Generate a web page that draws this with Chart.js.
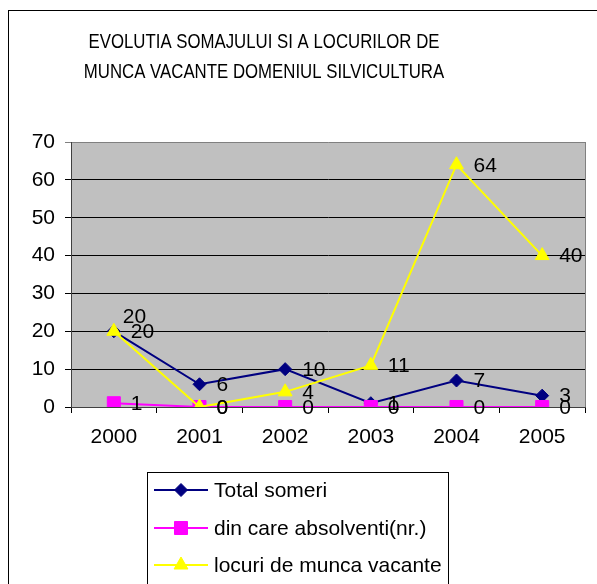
<!DOCTYPE html>
<html>
<head>
<meta charset="utf-8">
<script src="https://cdn.jsdelivr.net/npm/chart.js@4/dist/chart.umd.min.js"></script>
<style>
html,body{margin:0;padding:0;background:#fff}
canvas{display:block}
</style>
</head>
<body>
<canvas id="c" width="597" height="584"></canvas>
<script>
const years = ["2000","2001","2002","2003","2004","2005"]
const total_someri = [20,6,10,1,7,3]
const absolventi = [1,0,0,0,0,0]
const locuri_vacante = [20,0,4,11,64,40]
const series_names = ["Total someri","din care absolventi(nr.)","locuri de munca vacante"]
const title_lines = ["EVOLUTIA SOMAJULUI SI A LOCURILOR DE","MUNCA VACANTE DOMENIUL SILVICULTURA"]
const x_title = "ANII"

const navy = "#000080"
const magenta = "#FF00FF"
const yellow = "#FFFF00"
const font = "Arial, 'Liberation Sans', sans-serif"
const fsize = 21

// background, outer frame, grey plot area
const backPlugin = {
    id:"back",
    beforeDraw(chart){
        let ctx = chart.ctx
        let a = chart.chartArea
        ctx.save()
        ctx.fillStyle = "#fff"
        ctx.fillRect(0,0,chart.width,chart.height)
        ctx.strokeStyle = "#000"
        ctx.lineWidth = 1
        ctx.strokeRect(8.5,10.5,700,700)
        ctx.fillStyle = "#C0C0C0"
        ctx.fillRect(a.left,a.top,a.right-a.left,a.bottom-a.top)
        ctx.restore()
    },
    afterDraw(chart){
        let ctx = chart.ctx
        let a = chart.chartArea
        ctx.save()
        // right border of plot
        ctx.strokeStyle = "#808080"
        ctx.lineWidth = 1
        ctx.beginPath()
        ctx.moveTo(Math.round(a.right)+0.5,a.top)
        ctx.lineTo(Math.round(a.right)+0.5,a.bottom)
        ctx.stroke()

        // title, a bit condensed
        ctx.fillStyle = "#000"
        ctx.font = "20px " + font
        ctx.textAlign = "center"
        ctx.textBaseline = "middle"
        let ys = [42,72]
        for (let i=0;i<title_lines.length;i++){
            ctx.save()
            ctx.translate(264,ys[i])
            ctx.scale(0.84,1)
            ctx.fillText(title_lines[i],0,0)
            ctx.restore()
        }

        // x axis title (hidden under the legend, only the top shows)
        ctx.font = "bold 20px " + font
        ctx.fillText(x_title,(a.left+a.right)/2,482)

        // legend box
        ctx.fillStyle = "#fff"
        ctx.fillRect(147.5,472.5,301,200)
        ctx.strokeStyle = "#000"
        ctx.lineWidth = 1
        ctx.strokeRect(147.5,472.5,301,200)
        let metas = chart.data.datasets
        let rows = [490,528,565]
        for (let i=0;i<metas.length;i++){
            let ds = metas[i]
            ctx.strokeStyle = ds.borderColor
            ctx.lineWidth = 2
            ctx.beginPath()
            ctx.moveTo(154,rows[i])
            ctx.lineTo(208,rows[i])
            ctx.stroke()
            ctx.fillStyle = ds.backgroundColor
            ctx.lineWidth = 1
            Chart.helpers.drawPoint(ctx,{pointStyle:ds.pointStyle,radius:ds.pointRadius,borderWidth:1,rotation:0},181,rows[i])
            ctx.fillStyle = "#000"
            ctx.font = fsize + "px " + font
            ctx.textAlign = "left"
            ctx.textBaseline = "middle"
            ctx.fillText(series_names[i],214,rows[i]+1)
        }
        ctx.restore()
    }
}

// value labels to the right of each point
const labelPlugin = {
    id:"labels",
    afterDatasetsDraw(chart){
        let ctx = chart.ctx
        ctx.save()
        ctx.fillStyle = "#000"
        ctx.font = fsize + "px " + font
        ctx.textAlign = "left"
        ctx.textBaseline = "middle"
        chart.data.datasets.forEach((ds,di)=>{
            let meta = chart.getDatasetMeta(di)
            meta.data.forEach((pt,i)=>{
                let dx = 17, dy = 1
                if (di==0 && i==0){dx = 9; dy = -14}
                ctx.fillText(String(ds.data[i]),pt.x+dx,pt.y+dy)
            })
        })
        ctx.restore()
    }
}

const chart = new Chart(document.getElementById("c").getContext("2d"),{
    type:"line",
    data:{
        labels:years,
        datasets:[
            {label:series_names[0],data:total_someri,borderColor:navy,backgroundColor:navy,borderWidth:2,
             pointStyle:"rectRot",pointRadius:6.5,pointBorderWidth:1,order:3},
            {label:series_names[1],data:absolventi,borderColor:magenta,backgroundColor:magenta,borderWidth:2,
             pointStyle:"rect",pointRadius:9.2,pointBorderWidth:1,order:2},
            {label:series_names[2],data:locuri_vacante,borderColor:yellow,backgroundColor:yellow,borderWidth:2,
             pointStyle:"triangle",pointRadius:8,pointBorderWidth:1,order:1}
        ]
    },
    options:{
        responsive:false,
        animation:false,
        layout:{padding:{left:0,top:142,right:12,bottom:0}},
        plugins:{legend:{display:false},title:{display:false},tooltip:{enabled:false}},
        scales:{
            x:{
                offset:true,
                grid:{display:true,drawOnChartArea:false,drawTicks:true,tickLength:6,color:"#000",offset:true},
                border:{color:"#404040",width:1},
                ticks:{color:"#000",font:{size:fsize,family:font},padding:12,maxRotation:0},
                afterFit(s){s.height = 177}
            },
            y:{
                min:0,max:70,
                ticks:{stepSize:10,color:"#000",font:{size:fsize,family:font},padding:10},
                grid:{color:(c)=> c.tick && c.tick.value==70 ? "#808080" : "#000",lineWidth:1,tickLength:6,drawTicks:true},
                border:{color:"#404040",width:1},
                afterFit(s){s.width = 71}
            }
        }
    },
    plugins:[backPlugin,labelPlugin]
})
</script>
</body>
</html>
